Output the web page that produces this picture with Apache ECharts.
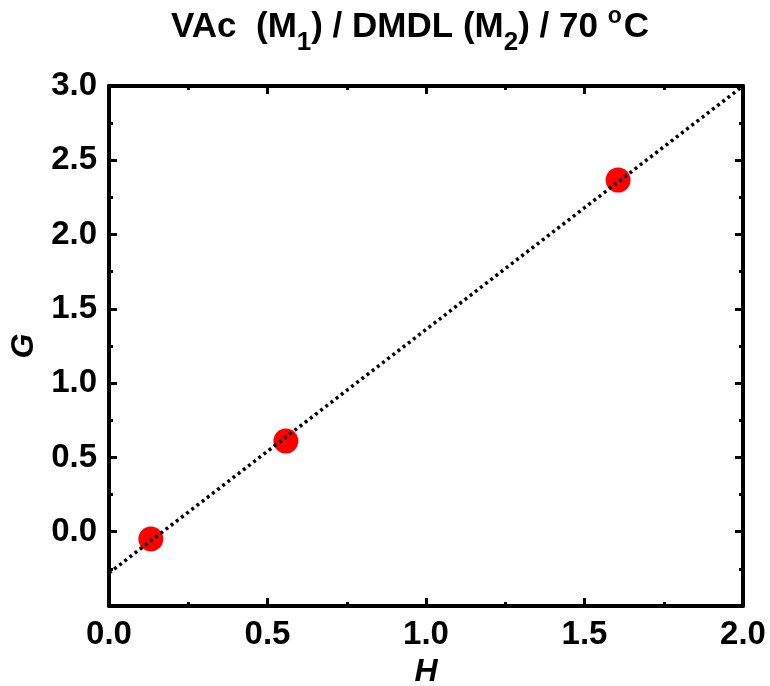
<!DOCTYPE html>
<html>
<head>
<meta charset="utf-8">
<script src="https://cdn.jsdelivr.net/npm/echarts@6/dist/echarts.min.js"></script>
<style>
  html, body { margin: 0; padding: 0; background: #fff; }
  #chart { width: 770px; height: 686px; }
</style>
</head>
<body>
<div id="chart"></div>
<script>
// measured points (H, G)
var hValues = [0.132, 0.558, 1.606]
var gValues = [-0.049, 0.61, 2.367]
// linear fit, drawn as dotted line
var fitH = [0, 2.0]
var fitG = [-0.278, 3.0]

var font = '"Liberation Sans", Arial, sans-serif'
var axisColor = '#000'

var points = hValues.map(function (h, i) { return [h, gValues[i]] })
var fitLine = fitH.map(function (h, i) { return [h, fitG[i]] })

function makeAxis (opts) {
  var axis = {
    type: 'value',
    splitLine: { show: false },
    axisLine: { show: true, onZero: false, lineStyle: { color: axisColor, width: 4 } },
    axisTick: { show: true, inside: true, length: 8, lineStyle: { color: axisColor, width: 3 } },
    minorTick: { show: true, splitNumber: 2, length: 4, lineStyle: { color: axisColor, width: 3 } }
  }
  return Object.assign(axis, opts)
}

var labelStyle = { color: '#000', fontFamily: font, fontWeight: 'bold', fontSize: 33, margin: 12 }
var nameStyle = { fontFamily: font, fontWeight: 'bold', fontStyle: 'italic', fontSize: 32, color: '#000' }

var myChart = echarts.init(document.getElementById('chart'))
myChart.setOption({
  animation: false,
  title: {
    text: '{b|VAc  (M}{s|1}{b|) / DMDL (M}{s|2}{b|) / 70 }{o|o}{b|C}',
    left: 410,
    textAlign: 'center',
    top: 5,
    padding: 0,
    textStyle: {
      rich: {
        b: { fontFamily: font, fontWeight: 'bold', fontSize: 35, color: '#000', lineHeight: 44, padding: [5, 0, 0, 0], verticalAlign: 'top' },
        s: { fontFamily: font, fontWeight: 'bold', fontSize: 26, color: '#000', lineHeight: 26, padding: [25, 0, 0, 0], verticalAlign: 'top' },
        o: { fontFamily: font, fontWeight: 'bold', fontSize: 23, color: '#000', lineHeight: 23, padding: [0, 2, 0, 0], verticalAlign: 'top' }
      }
    }
  },
  grid: { left: 109, right: 27, top: 86, bottom: 80, containLabel: false, outerBoundsMode: 'none' },
  xAxis: [
    makeAxis({
      position: 'bottom', min: 0, max: 2.0, interval: 0.5,
      name: 'H', nameLocation: 'middle', nameGap: 48,
      nameTextStyle: nameStyle,
      axisLabel: Object.assign({}, labelStyle, {
        formatter: function (v) { return v.toFixed(1) }
      })
    }),
    makeAxis({
      position: 'top', min: 0, max: 2.0, interval: 0.5,
      axisLabel: { show: false }
    })
  ],
  yAxis: [
    makeAxis({
      position: 'left', min: -0.5, max: 3.0, interval: 0.5,
      name: 'G', nameLocation: 'middle', nameGap: 67, nameRotate: 90,
      nameTextStyle: nameStyle,
      axisLabel: Object.assign({}, labelStyle, {
        formatter: function (v) { return v < 0 ? '' : v.toFixed(1) }
      })
    }),
    makeAxis({
      position: 'right', min: -0.5, max: 3.0, interval: 0.5,
      axisLabel: { show: false }
    })
  ],
  series: [
    {
      type: 'line',
      data: fitLine,
      symbol: 'none',
      lineStyle: { color: '#000', width: 3.5, type: [3, 3.5] },
      z: 3
    },
    {
      type: 'scatter',
      data: points,
      symbol: 'circle',
      symbolSize: 25,
      itemStyle: { color: '#ff0000', opacity: 1 },
      z: 2
    }
  ]
})
</script>
</body>
</html>
